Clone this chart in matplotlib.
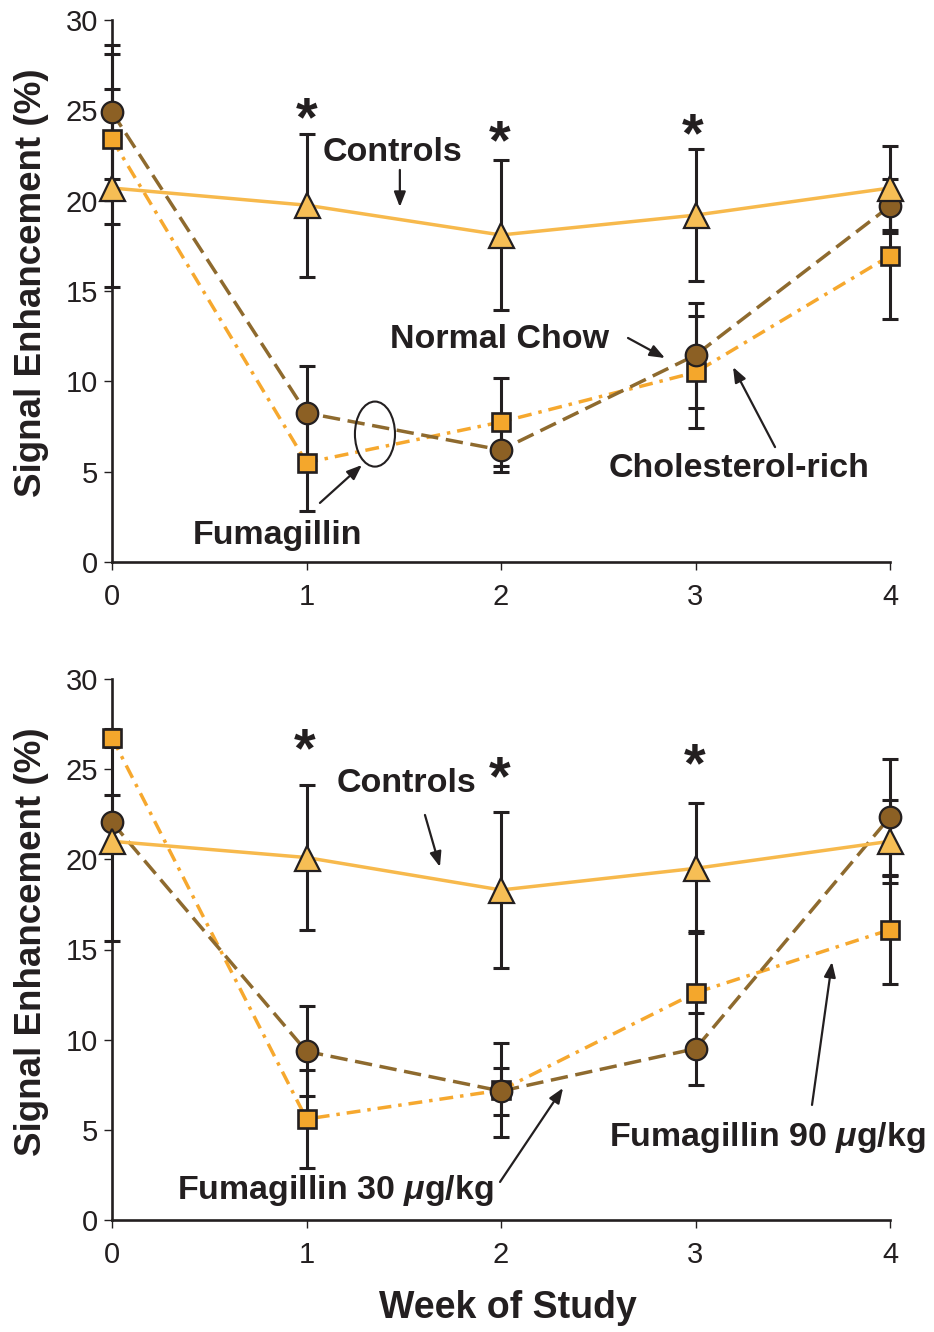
'''
Signal enhancement over the weeks of study, two panels.
'''

import matplotlib
matplotlib.use("Agg")
import matplotlib.pyplot as plt
from matplotlib.patches import Ellipse
import numpy as np

weeks = [0, 1, 2, 3, 4]

# top panel
top_controls = [20.7, 19.75, 18.1, 19.2, 20.7]
top_controls_err = [5.5, 3.95, 4.15, 3.65, 2.3]
top_chow = [24.9, 8.25, 6.2, 11.45, 19.7]
top_chow_err = [3.7, 2.6, 1.2, 2.9, 1.5]
top_chol = [23.4, 5.5, 7.75, 10.5, 16.95]
top_chol_err = [4.7, 2.7, 2.45, 3.1, 3.5]

# bottom panel
bot_controls = [21.0, 20.1, 18.3, 19.5, 21.0]
bot_controls_err = [5.55, 4.0, 4.3, 3.6, 2.3]
bot_f30 = [22.05, 9.35, 7.15, 9.5, 22.35]
bot_f30_err = [1.5, 2.5, 1.3, 2.0, 3.2]
bot_f90 = [26.75, 5.6, 7.2, 12.6, 16.1]
bot_f90_err = [0.5, 2.7, 2.6, 3.4, 3.0]

yticks = [0, 5, 10, 15, 20, 25, 30]

ctrl_line = "#F7B94C"
ctrl_fill = "#F6BE55"
brown = "#8C6024"
brown_line = "#8E6A2E"
orange = "#F4A72C"
orange_line = "#F6A82E"
edge = "#231F20"

plt.rcParams["mathtext.fontset"] = "custom"
plt.rcParams["mathtext.rm"] = "Liberation Sans:bold"
plt.rcParams["mathtext.it"] = "Liberation Sans:bold:italic"

ann_font = dict(family=["Liberation Sans", "DejaVu Sans"], fontweight="bold", fontsize=24.5, color="#231F20")
tick_font = ["Liberation Sans Narrow", "Liberation Sans", "DejaVu Sans"]

fig = plt.figure(figsize=(9.34, 13.32), dpi=100)
ax1 = fig.add_axes([112 / 934, 1 - 562 / 1332, 778 / 934, 542 / 1332])
ax2 = fig.add_axes([112 / 934, 1 - 1220 / 1332, 778 / 934, 541 / 1332])


def draw_panel(ax, ctrl, ctrl_err, circ, circ_err, sq, sq_err):
    # lines first
    ax.plot(weeks, sq, color=orange_line, lw=2.5, dashes=(4, 2, 1, 2), zorder=2, clip_on=False)
    ax.plot(weeks, circ, color=brown_line, lw=2.5, dashes=(5, 2.2), zorder=2, clip_on=False)
    ax.plot(weeks, ctrl, color=ctrl_line, lw=2.5, zorder=2, clip_on=False)
    # error bars
    for vals, errs in [(sq, sq_err), (circ, circ_err), (ctrl, ctrl_err)]:
        ax.errorbar(weeks, vals, yerr=errs, fmt="none", ecolor=edge, elinewidth=2.2,
                    capsize=6, capthick=2.2, zorder=3, clip_on=False)
    # markers
    ax.plot(weeks, sq, ls="none", marker="s", ms=12.5, mfc=orange, mec=edge, mew=1.9, zorder=4, clip_on=False)
    ax.plot(weeks, circ, ls="none", marker="o", ms=15.5, mfc=brown, mec=edge, mew=1.6, zorder=5, clip_on=False)
    ax.plot(weeks, ctrl, ls="none", marker="^", ms=18, mfc=ctrl_fill, mec=edge, mew=1.6, zorder=6, clip_on=False)

    ax.set_xlim(0, 4)
    ax.set_ylim(0, 30)
    ax.set_xticks(weeks)
    ax.set_yticks(yticks)
    for s in ["top", "right"]:
        ax.spines[s].set_visible(False)
    for s in ["left", "bottom"]:
        ax.spines[s].set_linewidth(1.9)
        ax.spines[s].set_color(edge)
    ax.tick_params(direction="out", length=6, width=1.0, color=edge)
    ax.tick_params(axis="x", pad=9)
    ax.tick_params(axis="y", pad=4)
    for lab in ax.get_xticklabels() + ax.get_yticklabels():
        lab.set_family(tick_font)
        lab.set_fontsize(21)
        lab.set_color(edge)
    ax.set_ylabel("Signal Enhancement (%)", family=["Liberation Sans", "DejaVu Sans"],
                  fontweight="bold", fontsize=26.5, color=edge)
    ax.yaxis.set_label_coords(-0.081, 0.515)


draw_panel(ax1, top_controls, top_controls_err, top_chow, top_chow_err, top_chol, top_chol_err)
draw_panel(ax2, bot_controls, bot_controls_err, bot_f30, bot_f30_err, bot_f90, bot_f90_err)

arrow = dict(arrowstyle="-|>,head_length=0.9,head_width=0.35", color=edge, lw=1.6, shrinkA=0, shrinkB=0)

# top annotations
ax1.text(1.44, 22.69, "Controls", ha="center", va="center", **ann_font)
ax1.annotate("", xy=(1.48, 19.65), xytext=(1.48, 21.7), arrowprops=arrow)
ax1.text(1.995, 12.29, "Normal Chow", ha="center", va="center", **ann_font)
ax1.annotate("", xy=(2.843, 11.29), xytext=(2.653, 12.4), arrowprops=arrow)
ax1.text(3.224, 5.2, "Cholesterol-rich", ha="center", va="center", **ann_font)
ax1.annotate("", xy=(3.193, 10.79), xytext=(3.409, 6.36), arrowprops=arrow)
ax1.text(0.853, 1.49, "Fumagillin", ha="center", va="center", **ann_font)
ax1.annotate("", xy=(1.285, 5.37), xytext=(1.069, 3.27), arrowprops=arrow)
ax1.add_patch(Ellipse((1.352, 7.08), 0.206, 3.6, fill=False, ec=edge, lw=1.5, zorder=6))

# bottom annotations
ax2.text(1.512, 24.18, "Controls", ha="center", va="center", **ann_font)
ax2.annotate("", xy=(1.686, 19.58), xytext=(1.609, 22.46), arrowprops=arrow)
ax2.text(1.147, 1.66, r"Fumagillin 30 $\mu$g/kg", ha="center", va="center", **ann_font)
ax2.annotate("", xy=(2.319, 7.32), xytext=(1.995, 2.11), arrowprops=arrow)
ax2.text(3.368, 4.60, r"Fumagillin 90 $\mu$g/kg", ha="center", va="center", **ann_font)
ax2.annotate("", xy=(3.702, 14.31), xytext=(3.599, 6.38), arrowprops=arrow)

# significance stars
star_font = dict(family=["Liberation Sans", "DejaVu Sans"], fontweight="bold", fontsize=40,
                 color=edge, ha="center", va="center")
for x, y in [(1.003, 25.0), (1.995, 23.74), (2.987, 24.13)]:
    ax1.text(x, y - 0.6, "*", **star_font)
for x, y in [(0.992, 26.51), (1.995, 24.96), (2.997, 25.68)]:
    ax2.text(x, y - 0.6, "*", **star_font)

fig.text(508 / 934, 1 - 1308 / 1332, "Week of Study", ha="center", va="center",
         family=tick_font, fontweight="bold", fontsize=27, color=edge)

fig.savefig("out.png", dpi=100)
